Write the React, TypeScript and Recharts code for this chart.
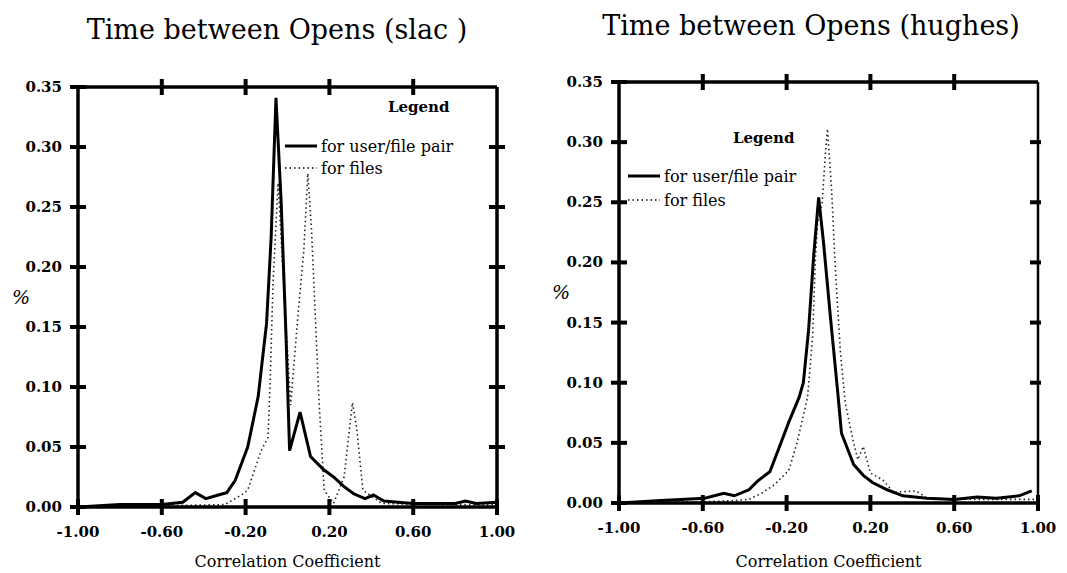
import React from "react";
import { LineChart, Line, XAxis, YAxis, Legend } from "recharts";

const FONT = '"DejaVu Serif", serif';

const xTicks = [-1, -0.6, -0.2, 0.2, 0.6, 1];
const yTicks = [0, 0.05, 0.1, 0.15, 0.2, 0.25, 0.3, 0.35];

// slac: user/file pair
const slacPairR = [-1, -0.8, -0.6, -0.5, -0.44, -0.39, -0.33, -0.29, -0.25, -0.19, -0.14, -0.1, -0.078, -0.055, -0.03, -0.007, 0.01, 0.06, 0.11, 0.173, 0.22, 0.27, 0.316, 0.37, 0.41, 0.46, 0.6, 0.8, 0.85, 0.9, 1];
const slacPairPct = [0, 0.002, 0.002, 0.004, 0.012, 0.007, 0.01, 0.012, 0.022, 0.05, 0.092, 0.153, 0.225, 0.341, 0.253, 0.142, 0.047, 0.079, 0.042, 0.031, 0.025, 0.017, 0.011, 0.007, 0.01, 0.005, 0.003, 0.003, 0.005, 0.003, 0.004];

// slac: files
const slacFilesR = [-1, -0.6, -0.3, -0.22, -0.19, -0.126, -0.093, -0.083, -0.069, -0.058, -0.045, -0.02, 0.015, 0.05, 0.078, 0.097, 0.115, 0.15, 0.175, 0.22, 0.27, 0.31, 0.33, 0.36, 0.45, 0.7, 1];
const slacFilesPct = [0, 0.001, 0.002, 0.01, 0.014, 0.047, 0.058, 0.103, 0.187, 0.225, 0.27, 0.19, 0.085, 0.16, 0.214, 0.278, 0.23, 0.09, 0.014, 0.003, 0.025, 0.087, 0.066, 0.014, 0.003, 0.002, 0.002];

// hughes: user/file pair
const hughesPairR = [-1, -0.8, -0.59, -0.5, -0.45, -0.38, -0.34, -0.28, -0.24, -0.19, -0.14, -0.12, -0.095, -0.071, -0.047, -0.024, 0.01, 0.043, 0.062, 0.12, 0.166, 0.21, 0.28, 0.355, 0.47, 0.6, 0.71, 0.8, 0.91, 0.97];
const hughesPairPct = [0, 0.002, 0.004, 0.008, 0.006, 0.011, 0.018, 0.026, 0.044, 0.067, 0.088, 0.1, 0.144, 0.205, 0.254, 0.217, 0.153, 0.094, 0.058, 0.032, 0.023, 0.017, 0.011, 0.006, 0.004, 0.003, 0.005, 0.004, 0.006, 0.01];

// hughes: files
const hughesFilesR = [-1, -0.6, -0.45, -0.38, -0.32, -0.26, -0.19, -0.15, -0.1, -0.076, -0.062, -0.052, -0.03, -0.014, -0.005, 0.014, 0.033, 0.057, 0.08, 0.12, 0.14, 0.166, 0.2, 0.26, 0.31, 0.42, 0.47, 0.7, 1];
const hughesFilesPct = [0, 0.001, 0.002, 0.003, 0.008, 0.015, 0.027, 0.05, 0.088, 0.138, 0.205, 0.233, 0.25, 0.292, 0.311, 0.263, 0.194, 0.125, 0.083, 0.05, 0.036, 0.047, 0.025, 0.019, 0.009, 0.01, 0.004, 0.003, 0.003];

const PAIR = "for user/file pair";
const FILES = "for files";

const pts = (rs: number[], ps: number[]) => rs.map((r, i) => ({ r, pct: ps[i] }));

const TM = 8; // tick margin
const TL = 8; // half length of a tick mark
const axisLine = { stroke: "#000", strokeWidth: 3.5 };

// bottom tick label plus crossing marks on the bottom and top frame
function BottomTick(p: any) {
  const ay = p.y - TM;
  const v = p.payload.value;
  const inner = v > -1 && v < 1;
  return (
    <g>
      <line x1={p.x} x2={p.x} y1={ay - TL} y2={ay + TL} stroke="#000" strokeWidth={4} />
      {inner && <line x1={p.x} x2={p.x} y1={p.top - TL} y2={p.top + TL} stroke="#000" strokeWidth={4} />}
      <text x={p.x} y={ay + 30} textAnchor="middle" fontFamily={FONT} fontWeight="bold" fontSize={15} fill="#000">
        {v.toFixed(2)}
      </text>
    </g>
  );
}

// left tick label plus crossing marks on the left and right frame
function LeftTick(p: any) {
  const ax = p.x + TM;
  const v = p.payload.value;
  const inner = v > 0 && v < 0.35;
  return (
    <g>
      <line x1={ax - TL} x2={ax + TL} y1={p.y} y2={p.y} stroke="#000" strokeWidth={4} />
      {inner && <line x1={p.right - TL} x2={p.right + p.rightOut} y1={p.y} y2={p.y} stroke="#000" strokeWidth={4} />}
      <text x={ax - 16} y={p.y + 5} textAnchor="end" fontFamily={FONT} fontWeight="bold" fontSize={15} fill="#000">
        {v.toFixed(2)}
      </text>
    </g>
  );
}

function LegendBox({ pad, gap, rowH }: { pad: number; gap: number; rowH: number }) {
  const rows = [
    { name: PAIR, dash: undefined, w: 3 },
    { name: FILES, dash: "1.5 3", w: 1.5 },
  ];
  return (
    <div style={{ fontFamily: FONT, color: "#000" }}>
      <div style={{ paddingLeft: pad, height: 22, lineHeight: "22px", fontWeight: "bold", fontSize: 15, fontFamily: FONT }}>Legend</div>
      <div style={{ marginTop: gap }}>
        {rows.map((r) => (
          <div key={r.name} style={{ display: "flex", alignItems: "center", height: rowH, fontSize: 16, whiteSpace: "nowrap" }}>
            <svg width={32} height={10} style={{ marginRight: 4 }}>
              <line x1={0} x2={32} y1={5} y2={5} stroke="#000" strokeWidth={r.w} strokeDasharray={r.dash} />
            </svg>
            <span style={{ fontFamily: FONT }}>{r.name}</span>
          </div>
        ))}
      </div>
    </div>
  );
}

function Panel(props: any) {
  const { pair, files, width, margin, yWidth, legendPos, legendCfg, rightFrame, rightOut, labelOffset } = props;
  const plotTop = margin.top + 1;
  const plotRight = width - margin.right - 1;
  return (
    <LineChart width={width} height={573} margin={margin}>
      <XAxis
        dataKey="r"
        type="number"
        domain={[-1, 1]}
        ticks={xTicks}
        interval={0}
        height={1}
        tickSize={0}
        tickMargin={TM}
        tickLine={false}
        axisLine={axisLine}
        allowDataOverflow
        tick={(p: any) => <BottomTick {...p} top={plotTop} />}
        label={{ value: "Correlation Coefficient", position: "bottom", offset: labelOffset, fill: "#000", fontSize: 16, fontFamily: FONT }}
      />
      <XAxis
        xAxisId="top"
        orientation="top"
        type="number"
        domain={[-1, 1]}
        height={1}
        tick={false}
        tickLine={false}
        axisLine={axisLine}
      />
      <YAxis
        type="number"
        domain={[0, 0.35]}
        ticks={yTicks}
        interval={0}
        width={yWidth}
        tickSize={0}
        tickMargin={TM}
        tickLine={false}
        axisLine={axisLine}
        allowDataOverflow
        tick={(p: any) => <LeftTick {...p} right={plotRight} rightOut={rightOut} />}
        label={{ value: "%", position: "insideLeft", offset: 12, fill: "#000", fontSize: 19, fontFamily: FONT, fontStyle: "italic" }}
      />
      <YAxis
        yAxisId="right"
        orientation="right"
        type="number"
        domain={[0, 0.35]}
        width={1}
        tick={false}
        tickLine={false}
        axisLine={{ stroke: "#000", strokeWidth: rightFrame }}
      />
      <Legend
        layout="vertical"
        align="center"
        verticalAlign="middle"
        wrapperStyle={{ left: legendPos.left, top: legendPos.top, width: 220 }}
        content={() => <LegendBox {...legendCfg} />}
      />
      <Line
        data={files}
        dataKey="pct"
        name={FILES}
        type="linear"
        stroke="#222"
        strokeWidth={1.6}
        strokeDasharray="1.5 3"
        dot={false}
        isAnimationActive={false}
      />
      <Line
        data={pair}
        dataKey="pct"
        name={PAIR}
        type="linear"
        stroke="#000"
        strokeWidth={3}
        dot={false}
        isAnimationActive={false}
      />
    </LineChart>
  );
}

export default function App() {
  const title = { position: "absolute" as const, fontFamily: FONT, fontSize: 27, color: "#000", whiteSpace: "nowrap" as const, transform: "translateX(-50%)" };
  return (
    <div style={{ position: "absolute", left: 0, top: 0, width: 1067, height: 573, background: "#fff", overflow: "hidden" }}>
      <div style={{ ...title, left: 277, top: 14 }}>Time between Opens (slac )</div>
      <div style={{ ...title, left: 811, top: 10 }}>Time between Opens (hughes)</div>
      <div style={{ position: "absolute", left: 0, top: 0 }}>
        <Panel
          pair={pts(slacPairR, slacPairPct)}
          files={pts(slacFilesR, slacFilesPct)}
          width={533}
          margin={{ top: 86, right: 35, bottom: 65, left: 0 }}
          yWidth={78}
          legendPos={{ left: 285, top: 96 }}
          legendCfg={{ pad: 103, gap: 17, rowH: 22 }}
          rightFrame={3.5}
          rightOut={TL}
          labelOffset={48}
        />
      </div>
      <div style={{ position: "absolute", left: 540, top: 0 }}>
        <Panel
          pair={pts(hughesPairR, hughesPairPct)}
          files={pts(hughesFilesR, hughesFilesPct)}
          width={527}
          margin={{ top: 81, right: 28, bottom: 69, left: 0 }}
          yWidth={79}
          legendPos={{ left: 88, top: 127 }}
          legendCfg={{ pad: 105, gap: 15, rowH: 24 }}
          rightFrame={2.5}
          rightOut={3}
          labelOffset={52}
        />
      </div>
    </div>
  );
}
